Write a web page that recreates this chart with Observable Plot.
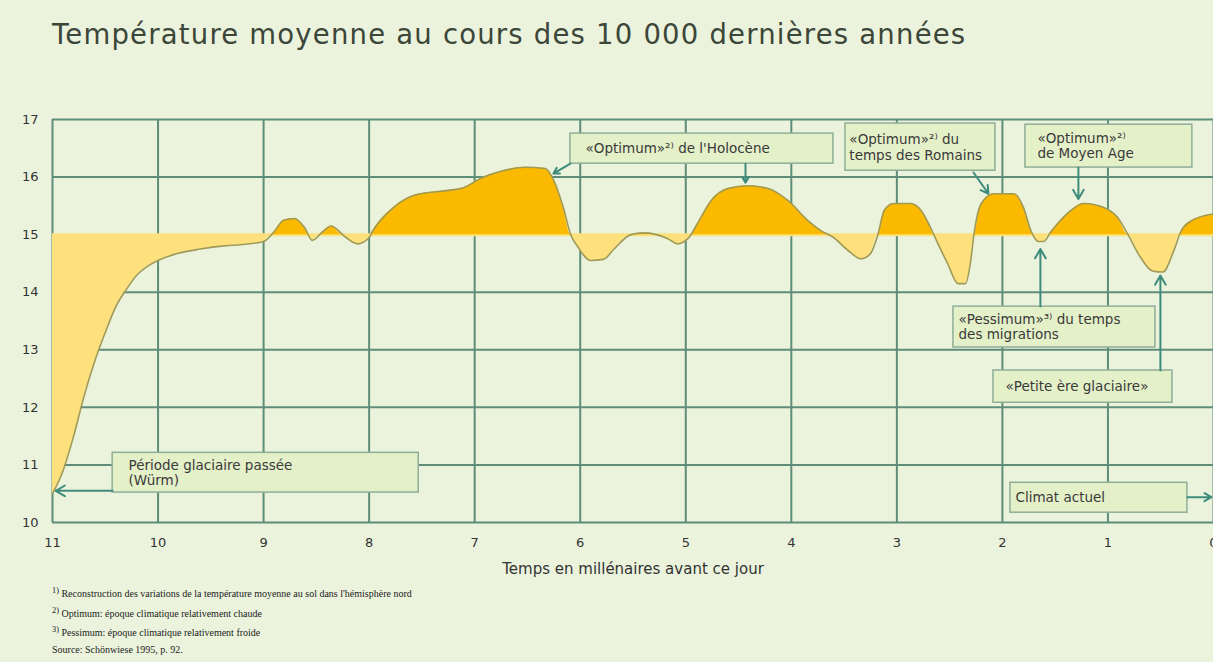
<!DOCTYPE html>
<html><head><meta charset="utf-8">
<script src="https://cdn.jsdelivr.net/npm/d3@7"></script>
<script src="https://cdn.jsdelivr.net/npm/@observablehq/plot@0.6"></script>
<style>
html,body{margin:0;padding:0;background:#ebf3dc;width:1213px;height:662px;overflow:hidden}
#title{height:90px;box-sizing:border-box;padding:15px 0 0 52px;font-family:"DejaVu Sans";font-size:27.5px;letter-spacing:1.2px;color:#3c4639;line-height:38px;white-space:nowrap}
#chart{height:500px}
#notes{font-family:"Liberation Serif";font-size:10px;color:#222;padding-left:52px;margin-top:-9px}
#notes div{height:19.5px;line-height:19.5px;white-space:nowrap}
</style></head><body>
<div id="title">Température moyenne au cours des 10 000 dernières années</div>
<div id="chart"></div>
<div id="notes"></div>
<script>
// Temps en millénaires avant ce jour / température moyenne (°C)
const millennia = [11.0,10.9,10.8,10.7,10.6,10.5,10.4,10.3,10.2,10.1,10.0,9.8,9.6,9.4,9.2,9.0,8.9,8.81,8.71,8.61,8.54,8.44,8.36,8.22,8.11,8.0,7.97,7.77,7.54,7.29,7.10,6.94,6.75,6.52,6.33,6.25,6.16,6.09,6.02,5.90,5.78,5.68,5.52,5.40,5.17,5.08,4.98,4.89,4.76,4.60,4.41,4.22,4.03,3.84,3.72,3.60,3.46,3.34,3.25,3.18,3.12,3.03,2.87,2.77,2.68,2.61,2.52,2.42,2.35,2.30,2.27,2.20,2.08,1.89,1.80,1.73,1.66,1.61,1.54,1.35,1.23,1.04,0.91,0.81,0.69,0.58,0.48,0.38,0.31,0.21,0.0];
const temps = [10.5,10.9,11.5,12.2,12.8,13.3,13.75,14.05,14.3,14.45,14.55,14.68,14.75,14.8,14.83,14.88,15.05,15.25,15.28,15.12,14.9,15.05,15.15,14.95,14.84,14.95,15.05,15.47,15.7,15.76,15.82,15.98,16.1,16.17,16.15,15.94,15.47,15.0,14.78,14.55,14.57,14.75,15.0,15.03,14.93,14.84,14.93,15.19,15.59,15.8,15.85,15.8,15.59,15.24,15.07,14.95,14.72,14.58,14.67,15.0,15.42,15.54,15.54,15.42,15.12,14.84,14.5,14.15,14.15,14.55,15.0,15.54,15.71,15.71,15.47,15.07,14.88,14.88,15.05,15.42,15.54,15.47,15.3,15.0,14.6,14.37,14.35,14.7,15.05,15.24,15.36];
const xTicks = [11,10,9,8,7,6,5,4,3,2,1,0];
const yTicks = [10,11,12,13,14,15,16,17];
const baseline = 15;
const xLabel = "Temps en millénaires avant ce jour";

// annotation boxes (data coordinates)
const boxX1 = [6.093, 3.487, 1.782, 2.464, 2.085, 10.43, 1.924];
const boxX2 = [3.601, 2.066, 0.200, 0.550, 0.389, 7.53, 0.247];
const boxY1 = [16.233, 16.11, 16.165, 13.04, 12.08, 10.52, 10.17];
const boxY2 = [16.755, 16.93, 16.91, 13.75, 12.64, 11.21, 10.69];
const labelText = ["«Optimum»²⁾ de l'Holocène", "«Optimum»²⁾ du\ntemps des Romains", "«Optimum»²⁾\nde Moyen Age", "«Pessimum»³⁾ du temps\ndes migrations", "«Petite ère glaciaire»", "Période glaciaire passée\n(Würm)", "Climat actuel"];
const labelX = [5.95, 3.45, 1.668, 2.416, 1.971, 10.28, 1.876];
const labelY = [16.50, 16.52, 16.55, 13.40, 12.36, 10.87, 10.433];
// arrows
const arrX1 = [6.093, 4.434, 2.274, 1.28, 1.64, 0.503, 10.43, 0.247];
const arrY1 = [16.233, 16.233, 16.08, 16.165, 13.75, 12.64, 10.55, 10.44];
const arrX2 = [6.254, 4.434, 2.132, 1.28, 1.64, 0.503, 10.97, 0.02];
const arrY2 = [16.06, 15.90, 15.71, 15.62, 14.75, 14.29, 10.55, 10.44];

const footnotes = [
  "<sup>1)</sup> Reconstruction des variations de la température moyenne au sol dans l'hémisphère nord",
  "<sup>2)</sup> Optimum: époque climatique relativement chaude",
  "<sup>3)</sup> Pessimum: époque climatique relativement froide",
  "Source: Schönwiese 1995, p. 92."
];

const pts = millennia.map((m, i) => ({m, t: temps[i]}));
const dense = [];
pts.forEach((p, i) => {
  dense.push(p);
  const q = pts[i + 1];
  if (q && (p.t - baseline) * (q.t - baseline) < 0) {
    const f = (baseline - p.t) / (q.t - p.t);
    dense.push({m: p.m + f * (q.m - p.m), t: baseline});
  }
});
const boxes = boxX1.map((x1, i) => ({x1, x2: boxX2[i], y1: boxY1[i], y2: boxY2[i]}));
const labels = labelText.map((text, i) => ({text, x: labelX[i], y: labelY[i]}));
const arrows = arrX1.map((x1, i) => ({x1, y1: arrY1[i], x2: arrX2[i], y2: arrY2[i]}));

const gridColor = "#5e8d7a";
const chart = Plot.plot({
  width: 1213, height: 500,
  marginLeft: 52, marginRight: 0, marginTop: 29, marginBottom: 68,
  style: {background: "transparent", fontFamily: "DejaVu Sans", fontSize: "12px", color: "#333", overflow: "visible"},
  x: {domain: [11, 0]},
  y: {domain: [10, 17]},
  marks: [
    Plot.gridX(xTicks, {stroke: gridColor, strokeOpacity: 1, strokeWidth: 2}),
    Plot.gridY(yTicks.filter(d => d !== baseline), {stroke: gridColor, strokeOpacity: 1, strokeWidth: 2}),
    Plot.ruleY([baseline], {stroke: "#fde27c", strokeWidth: 3}),
    Plot.areaY(dense, {x: "m", y1: () => baseline, y2: d => Math.min(d.t, baseline), fill: "#fee07c", curve: "monotone-x"}),
    Plot.areaY(dense, {x: "m", y1: () => baseline, y2: d => Math.max(d.t, baseline), fill: "#fbb900", curve: "monotone-x"}),
    Plot.line(pts, {x: "m", y: "t", stroke: "#a09a56", strokeWidth: 1.6, curve: "monotone-x"}),
    Plot.rect(boxes, {x1: "x1", x2: "x2", y1: "y1", y2: "y2", fill: "#e4f0c8", stroke: "#8fae98", strokeWidth: 1.5}),
    Plot.text(labels, {x: "x", y: "y", text: "text", textAnchor: "start", lineAnchor: "middle", lineHeight: 1.12, fontSize: 13.5, fill: "#3a3a3a"}),
    Plot.arrow(arrows, {x1: "x1", y1: "y1", x2: "x2", y2: "y2", stroke: "#3e8c7c", strokeWidth: 2, headLength: 8}),
    Plot.axisX(xTicks, {tickSize: 0, tickPadding: 15, label: null, fontSize: 13, fill: "#333", tickFormat: "d"}),
    Plot.axisY(yTicks, {tickSize: 0, tickPadding: 14, label: null, fontSize: 13, fill: "#333", tickFormat: "d"}),
    Plot.text([xLabel], {frameAnchor: "bottom", dy: 51, fontSize: 15, fill: "#333"})
  ]
});
document.getElementById("chart").append(chart);
document.getElementById("notes").innerHTML = footnotes.map(f => `<div>${f}</div>`).join("");
</script>
</body></html>
